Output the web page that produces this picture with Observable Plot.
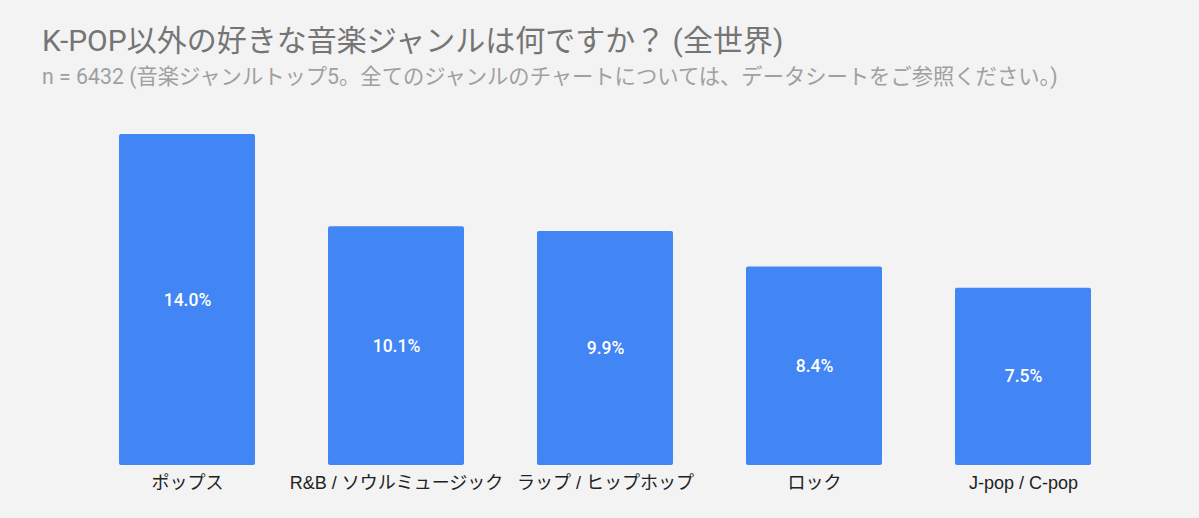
<!DOCTYPE html>
<html>
<head>
<meta charset="utf-8">
<script src="https://cdn.jsdelivr.net/npm/d3@7"></script>
<script src="https://cdn.jsdelivr.net/npm/@observablehq/plot@0.6"></script>
<style>
  html, body { margin: 0; padding: 0; background: #f3f3f3; }
  body { width: 1199px; height: 518px; overflow: hidden; font-family: Roboto, "Noto Sans CJK JP", sans-serif; }
  #header { position: relative; height: 100px; }
  #title { position: absolute; left: 42px; top: 25px; font-size: 30px; line-height: 32px; color: #757575; white-space: nowrap; }
  #subtitle { position: absolute; left: 42px; top: 65px; font-size: 21.3px; line-height: 24px; color: #a0a0a0; white-space: nowrap; }
  svg { display: block; }
</style>
</head>
<body>
<div id="header">
  <div id="title">K-POP以外の好きな音楽ジャンルは何ですか？ (全世界)</div>
  <div id="subtitle">n = 6432 (音楽ジャンルトップ5。全てのジャンルのチャートについては、データシートをご参照ください。)</div>
</div>
<div id="chart"></div>
<script>
const genres = ["ポップス", "R&B / ソウルミュージック", "ラップ / ヒップホップ", "ロック", "J-pop / C-pop"];
const shares = [14.0, 10.1, 9.9, 8.4, 7.5];
const valueLabels = ["14.0%", "10.1%", "9.9%", "8.4%", "7.5%"];

const data = genres.map((g, i) => ({genre: g, value: shares[i], label: valueLabels[i]}));

const chart = Plot.plot({
  width: 1199,
  height: 418,
  marginTop: 34,
  marginBottom: 53,
  marginLeft: 119,
  marginRight: 108,
  style: {background: "transparent", fontFamily: 'Roboto, "Noto Sans CJK JP", sans-serif'},
  x: {domain: genres, paddingInner: 0.35, paddingOuter: 0, label: null},
  y: {domain: [0, 14], axis: null},
  marks: [
    Plot.barY(data, {x: "genre", y: "value", fill: "#4285f4", rx: 2}),
    Plot.text(data, {x: "genre", y: d => d.value / 2, text: "label", fill: "white", fontSize: 17.5, fontWeight: 500}),
    Plot.axisX({tickSize: 0, tickPadding: 11, fontSize: 18, fontFamily: '"Liberation Sans", Arial, "Noto Sans CJK JP", sans-serif', color: "#222", label: null})
  ]
});
document.getElementById("chart").appendChild(chart);
</script>
</body>
</html>
